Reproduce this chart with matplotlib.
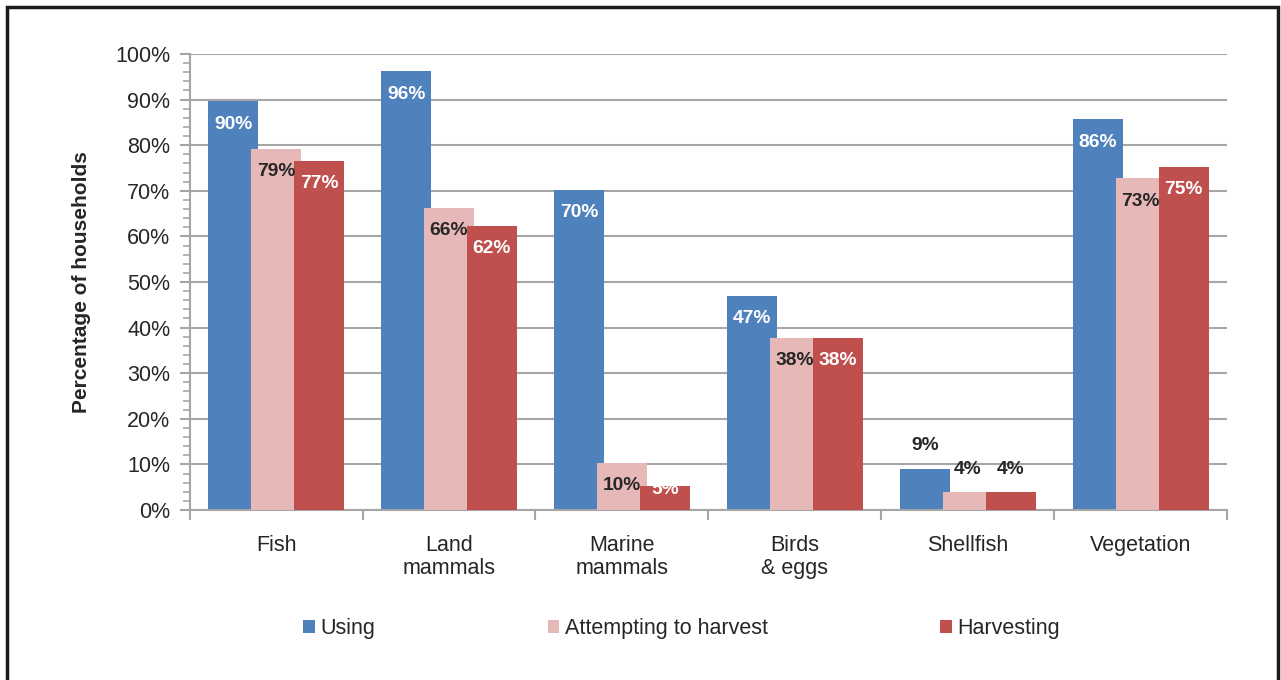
import matplotlib.pyplot as plt
import numpy as np
from matplotlib.patches import Rectangle

plt.rcParams['font.family'] = ['Liberation Sans', 'DejaVu Sans']

# Data
categories = ['Fish', 'Land\nmammals', 'Marine\nmammals', 'Birds\n& eggs', 'Shellfish', 'Vegetation']
series = ['Using', 'Attempting to harvest', 'Harvesting']
using = [89.6, 96.2, 70.2, 46.9, 9.1, 85.7]
attempting = [79.2, 66.2, 10.4, 37.7, 3.9, 72.7]
harvesting = [76.6, 62.3, 5.2, 37.7, 3.9, 75.3]
labels_outside = ['Shellfish']

colors = ['#4F81BD', '#E6B9B8', '#C0504D']
label_colors = ['white', '#262626', 'white']
grid_col = '#A6A6A6'
text_col = '#262626'

fig = plt.figure(figsize=(12.81, 6.8), dpi=100)
ax = fig.add_axes([0.148, 0.25, 0.81, 0.6706])

x = np.arange(len(categories))
width = 0.29
step = 0.248

for i, vals in enumerate([using, attempting, harvesting]):
    pos = x + (i - 1) * step
    ax.bar(pos, vals, width=width, color=colors[i], zorder=2 + i, label=series[i])
    for j, v in enumerate(vals):
        outside = categories[j] in labels_outside
        # inside-end labels, kept from dropping below the axis
        y = v + 5 if outside else max(v - 5, 4.6)
        c = text_col if outside else label_colors[i]
        ax.text(pos[j], y, f'{round(v)}%', ha='center', va='center',
                fontsize=13.8, fontweight='bold', color=c, zorder=10)

ax.set_xlim(-0.5, len(categories) - 0.5)
ax.set_ylim(0, 100)
ax.set_yticks(np.arange(0, 101, 10))
ax.set_yticklabels([f'{t}%' for t in range(0, 101, 10)])
ax.set_yticks(np.arange(0, 101, 2), minor=True)
ax.yaxis.grid(True, color=grid_col, linewidth=1.5, zorder=0)
ax.set_axisbelow(True)

ax.set_xticks(x)
ax.set_xticklabels(categories, linespacing=1.1)
ax.set_xticks(np.arange(-0.5, len(categories)), minor=True)
ax.tick_params(axis='x', which='major', length=0, pad=18, labelsize=15.5, labelcolor=text_col)
ax.tick_params(axis='x', which='minor', length=7, width=1.5, color=grid_col, direction='out')
ax.tick_params(axis='y', which='major', length=7, width=1.5, color=grid_col, pad=7,
               labelsize=15.5, labelcolor=text_col)
ax.tick_params(axis='y', which='minor', length=5, width=1.2, color=grid_col)

for s in ['top', 'right']:
    ax.spines[s].set_visible(False)
for s in ['left', 'bottom']:
    ax.spines[s].set_color(grid_col)
    ax.spines[s].set_linewidth(1.5)

ax.set_ylabel('Percentage of households', fontsize=15, fontweight='bold', color=text_col)
ax.yaxis.set_label_coords(-0.095, 0.5)

fig.legend(loc='center', bbox_to_anchor=(0.532, 0.076), ncol=3, frameon=False,
           fontsize=15.5, handlelength=0.55, handleheight=0.55, handletextpad=0.25,
           columnspacing=8.0, labelcolor=text_col)

fig.patches.append(Rectangle((7 / 1281, -0.1), 1271 / 1281, 1.1 - 7 / 680,
                             transform=fig.transFigure, fill=False,
                             edgecolor='#1A1A1A', linewidth=2.5))

fig.savefig('out.png', dpi=100)
